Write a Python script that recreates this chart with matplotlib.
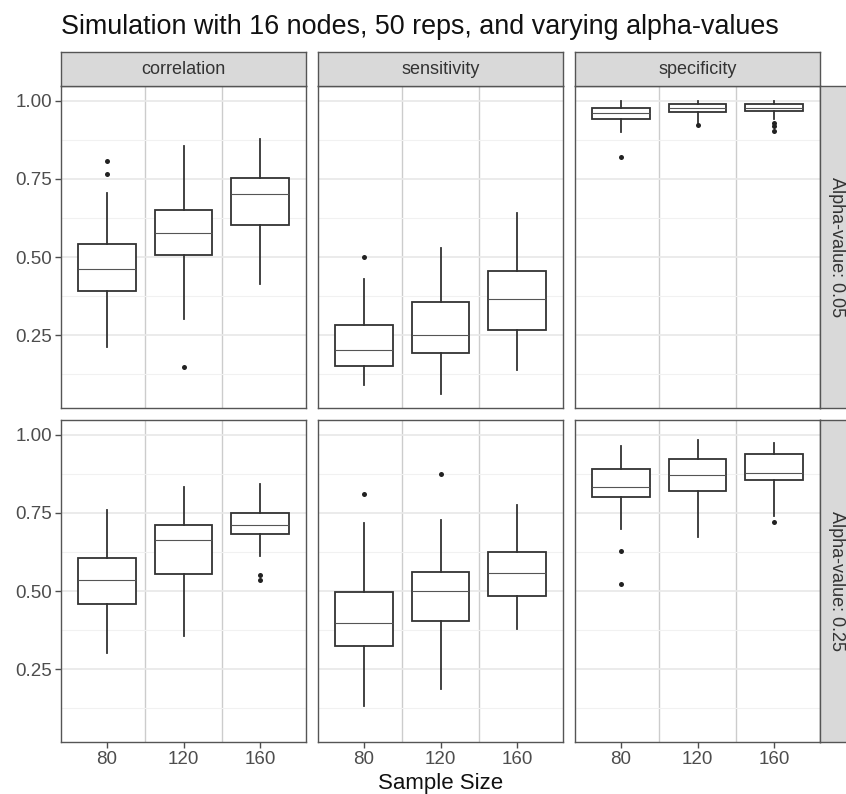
import numpy as np
import matplotlib
matplotlib.use("Agg")
import matplotlib.pyplot as plt

plt.rcParams['font.family'] = ['Liberation Sans', 'DejaVu Sans']

# facet layout
metrics = ['correlation', 'sensitivity', 'specificity']
alpha_labels = ['Alpha-value: 0.05', 'Alpha-value: 0.25']
sample_sizes = ['80', '120', '160']

# box statistics, rows = metric, cols = sample size
# alpha = 0.05
whislo_a05 = [[0.213, 0.302, 0.413], [0.089, 0.063, 0.138], [0.900, 0.928, 0.940]]
q1_a05 = [[0.392, 0.508, 0.602], [0.151, 0.193, 0.268], [0.940, 0.963, 0.966]]
med_a05 = [[0.463, 0.577, 0.700], [0.204, 0.252, 0.365], [0.960, 0.977, 0.978]]
q3_a05 = [[0.541, 0.649, 0.753], [0.282, 0.356, 0.456], [0.976, 0.990, 0.990]]
whishi_a05 = [[0.706, 0.856, 0.876], [0.431, 0.528, 0.640], [1.000, 1.000, 1.000]]
fliers_a05 = [[[0.808, 0.766], [0.149], []],
              [[0.501], [], []],
              [[0.819], [0.921], [0.930, 0.920, 0.904]]]

# alpha = 0.25
whislo_a25 = [[0.302, 0.356, 0.613], [0.132, 0.188, 0.378], [0.699, 0.672, 0.740]]
q1_a25 = [[0.458, 0.555, 0.681], [0.325, 0.405, 0.483], [0.801, 0.821, 0.855]]
med_a25 = [[0.535, 0.662, 0.712], [0.398, 0.500, 0.559], [0.833, 0.871, 0.879]]
q3_a25 = [[0.605, 0.710, 0.751], [0.496, 0.560, 0.625], [0.890, 0.922, 0.938]]
whishi_a25 = [[0.760, 0.834, 0.843], [0.717, 0.728, 0.774], [0.963, 0.984, 0.975]]
fliers_a25 = [[[], [], [0.552, 0.536]],
              [[0.809], [0.875], []],
              [[0.629, 0.523], [], [0.722]]]

rows = [
    (whislo_a05, q1_a05, med_a05, q3_a05, whishi_a05, fliers_a05),
    (whislo_a25, q1_a25, med_a25, q3_a25, whishi_a25, fliers_a25),
]

W, H = 846, 794
col_left = [61, 318, 575]
panel_w = 245
row_top = [86, 420]
panel_h = 322


def px_box(l, t, r, b):
    return [l / W, 1 - b / H, (r - l) / W, (b - t) / H]


fig = plt.figure(figsize=(W / 100, H / 100), dpi=100)
border = '#555555'

for r, (wlo, q1, med, q3, whi, fl) in enumerate(rows):
    for c, metric in enumerate(metrics):
        l = col_left[c]
        t = row_top[r]
        ax = fig.add_axes(px_box(l, t, l + panel_w, t + panel_h))
        stats = []
        for k in range(3):
            stats.append(dict(whislo=wlo[c][k], q1=q1[c][k], med=med[c][k],
                              q3=q3[c][k], whishi=whi[c][k], fliers=fl[c][k]))
        ax.bxp(stats, positions=[1, 2, 3], widths=0.75, showcaps=False,
               patch_artist=True,
               boxprops=dict(facecolor='white', edgecolor='#333333', linewidth=1.3),
               medianprops=dict(color='#555555', linewidth=0.8),
               whiskerprops=dict(color='#333333', linewidth=1.3),
               flierprops=dict(marker='o', markersize=3.6, markerfacecolor='#222222',
                               markeredgecolor='none'))
        ax.set_xlim(0.4, 3.6)
        ax.set_ylim(0.017, 1.047)
        ax.set_yticks([0.25, 0.5, 0.75, 1.0])
        ax.set_yticks([0.125, 0.375, 0.625, 0.875], minor=True)
        ax.set_xticks([1, 2, 3])
        ax.grid(which='major', axis='y', color='#e8e8e8', linewidth=1.2, zorder=0)
        ax.grid(which='minor', axis='y', color='#f1f1f1', linewidth=0.8, zorder=0)
        ax.set_axisbelow(True)
        for xv in (1.5, 2.5):
            ax.axvline(xv, color='#cccccc', linewidth=1.0, zorder=0.5)
        for sp in ax.spines.values():
            sp.set_color(border)
            sp.set_linewidth(1.0)
        ax.tick_params(which='minor', length=0)
        ax.tick_params(which='major', color='#4d4d4d', length=4, width=1,
                       labelcolor='#4d4d4d', labelsize=13.5, pad=2.5)
        if c == 0:
            ax.set_yticklabels(['0.25', '0.50', '0.75', '1.00'])
        else:
            ax.tick_params(axis='y', left=False, labelleft=False)
        if r == 1:
            ax.set_xticklabels(sample_sizes)
        else:
            ax.tick_params(axis='x', bottom=False, labelbottom=False)

        # column strip
        if r == 0:
            sax = fig.add_axes(px_box(l, 52, l + panel_w, 86))
            sax.set_facecolor('#d9d9d9')
            sax.set_xticks([])
            sax.set_yticks([])
            for sp in sax.spines.values():
                sp.set_color(border)
                sp.set_linewidth(1.0)
            sax.text(0.5, 0.5, metric, ha='center', va='center', fontsize=13,
                     color='#333333', transform=sax.transAxes)

    # row strip
    t = row_top[r]
    rax = fig.add_axes(px_box(820, t, 852, t + panel_h))
    rax.set_facecolor('#d9d9d9')
    rax.set_xticks([])
    rax.set_yticks([])
    for sp in rax.spines.values():
        sp.set_color(border)
        sp.set_linewidth(1.0)
    rax.text(0.5, 0.5, alpha_labels[r], ha='center', va='center', fontsize=13,
             rotation=-90, color='#333333', transform=rax.transAxes)

fig.text(61 / W, 1 - 34 / H, 'Simulation with 16 nodes, 50 reps, and varying alpha-values',
         ha='left', va='baseline', fontsize=19.4, color='#111111')
fig.text(440.5 / W, 1 - 783 / H, 'Sample Size', ha='center', va='center',
         fontsize=16, color='#111111')

fig.savefig('out.png', dpi=100)
